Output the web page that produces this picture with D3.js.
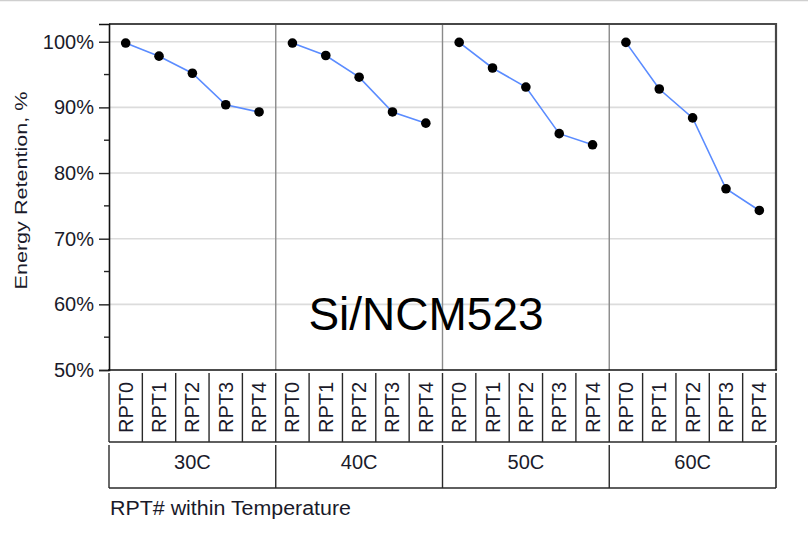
<!DOCTYPE html>
<html>
<head>
<meta charset="utf-8">
<script src="https://cdn.jsdelivr.net/npm/d3@7/dist/d3.min.js"></script>
<style>
  html, body { margin: 0; padding: 0; background: #fff; }
  svg { display: block; font-family: "Liberation Sans", Arial, sans-serif; }
</style>
</head>
<body>
<svg id="chart" width="808" height="542"></svg>
<script>
// Energy retention by RPT within each temperature
const temperatures = ["30C", "40C", "50C", "60C"];
const rpts = ["RPT0", "RPT1", "RPT2", "RPT3", "RPT4"];
const retention30C = [99.8, 97.8, 95.2, 90.4, 89.3];
const retention40C = [99.8, 97.9, 94.6, 89.3, 87.6];
const retention50C = [99.9, 96.0, 93.1, 86.0, 84.3];
const retention60C = [99.9, 92.8, 88.4, 77.6, 74.3];
const majorTicks = [50, 60, 70, 80, 90, 100];
const minorTicks = [55, 65, 75, 85, 95];
const chartLabel = "Si/NCM523";
const yTitle = "Energy Retention, %";
const xTitle = "RPT#  within  Temperature";

const series = [retention30C, retention40C, retention50C, retention60C];

const svg = d3.select("#chart");
const plotLeft = 109, plotRight = 776, plotTop = 24, plotBottom = 370;

const xOuter = d3.scaleBand().domain(temperatures).range([plotLeft, plotRight]);
const xInner = d3.scaleBand().domain(rpts).range([0, xOuter.bandwidth()]);
const y = d3.scaleLinear().domain([50, 102.7]).range([plotBottom, plotTop]);

// thin rule along the top of the window
svg.append("line").attr("x1", 0).attr("x2", 808).attr("y1", 0.5).attr("y2", 0.5)
  .attr("stroke", "#cfcfcf").attr("stroke-width", 1.5);

// gridlines
svg.append("g").selectAll("line").data(majorTicks.filter(d => d > 50)).join("line")
  .attr("x1", plotLeft).attr("x2", plotRight)
  .attr("y1", d => y(d)).attr("y2", d => y(d))
  .attr("stroke", "#dcdcdc").attr("stroke-width", 1.6);

// panel separators
svg.append("g").selectAll("line").data(temperatures.slice(1)).join("line")
  .attr("x1", d => xOuter(d)).attr("x2", d => xOuter(d))
  .attr("y1", plotTop).attr("y2", plotBottom)
  .attr("stroke", "#8a8a8a").attr("stroke-width", 1.4);

// frame: top and right in dark gray
svg.append("path")
  .attr("d", `M${plotLeft},${plotTop}H${plotRight}V${plotBottom}`)
  .attr("fill", "none").attr("stroke", "#474747").attr("stroke-width", 2.2);

// y axis
const yAxis = d3.axisLeft(y).tickValues(majorTicks).tickSize(10).tickPadding(5)
  .tickFormat(d => d + "%");
const gy = svg.append("g").attr("transform", `translate(${plotLeft},0)`).call(yAxis);
gy.select(".domain").attr("stroke", "#111").attr("stroke-width", 1.6);
gy.selectAll(".tick line").attr("stroke", "#222").attr("stroke-width", 1.4);
gy.selectAll(".tick text").attr("font-size", 20).attr("fill", "#1a1a2a")
  .attr("font-family", "Liberation Sans, Arial, sans-serif");
svg.append("g").selectAll("line").data(minorTicks).join("line")
  .attr("x1", plotLeft - 5).attr("x2", plotLeft)
  .attr("y1", d => y(d)).attr("y2", d => y(d))
  .attr("stroke", "#222").attr("stroke-width", 1.4);

// bottom axis line
svg.append("line").attr("x1", plotLeft - 1).attr("x2", plotRight + 1)
  .attr("y1", plotBottom).attr("y2", plotBottom)
  .attr("stroke", "#111").attr("stroke-width", 1.6);

// y title
svg.append("text")
  .attr("transform", `translate(27,${(91 + 290) / 2}) rotate(-90)`)
  .attr("text-anchor", "middle")
  .attr("font-size", 16).attr("fill", "#1a1a2a")
  .attr("textLength", 198).attr("lengthAdjust", "spacingAndGlyphs")
  .text(yTitle);

// lines and points per temperature
const line = d3.line()
  .x((d, i) => xInner(rpts[i]) + xInner.bandwidth() / 2)
  .y(d => y(d));

temperatures.forEach((t, k) => {
  const g = svg.append("g").attr("transform", `translate(${xOuter(t)},0)`);
  g.append("path").datum(series[k]).attr("d", line)
    .attr("fill", "none").attr("stroke", "#5b8cff").attr("stroke-width", 1.6);
  g.selectAll("circle").data(series[k]).join("circle")
    .attr("cx", (d, i) => xInner(rpts[i]) + xInner.bandwidth() / 2)
    .attr("cy", d => y(d))
    .attr("r", 4.8).attr("fill", "#000");
});

// category table below the plot
const row1Top = 373, row1Bottom = 442, row2Top = 445, row2Bottom = 488;
const cells = [];
temperatures.forEach(t => rpts.forEach(r => cells.push({ t, r })));
const cellX = d => xOuter(d.t) + xInner(d.r);

svg.append("g").selectAll("line").data(cells).join("line")
  .attr("x1", d => cellX(d)).attr("x2", d => cellX(d))
  .attr("y1", row1Top).attr("y2", row1Bottom)
  .attr("stroke", "#2a2a2a").attr("stroke-width", 1.4);
svg.append("line").attr("x1", plotRight).attr("x2", plotRight)
  .attr("y1", row1Top).attr("y2", row1Bottom)
  .attr("stroke", "#2a2a2a").attr("stroke-width", 1.6);
svg.append("line").attr("x1", plotLeft).attr("x2", plotRight)
  .attr("y1", row1Bottom).attr("y2", row1Bottom)
  .attr("stroke", "#2a2a2a").attr("stroke-width", 1.6);

svg.append("g").selectAll("text").data(cells).join("text")
  .attr("transform", d => `translate(${cellX(d) + xInner.bandwidth() / 2 + 7},${(row1Top + row1Bottom) / 2}) rotate(-90)`)
  .attr("text-anchor", "middle")
  .attr("font-size", 20).attr("fill", "#1a1a2a")
  .text(d => d.r);

svg.append("g").selectAll("line").data(temperatures).join("line")
  .attr("x1", d => xOuter(d)).attr("x2", d => xOuter(d))
  .attr("y1", row2Top).attr("y2", row2Bottom)
  .attr("stroke", "#2a2a2a").attr("stroke-width", 1.4);
svg.append("line").attr("x1", plotRight).attr("x2", plotRight)
  .attr("y1", row2Top).attr("y2", row2Bottom)
  .attr("stroke", "#2a2a2a").attr("stroke-width", 1.6);
svg.append("line").attr("x1", plotLeft).attr("x2", plotRight)
  .attr("y1", row2Bottom).attr("y2", row2Bottom)
  .attr("stroke", "#2a2a2a").attr("stroke-width", 1.6);

svg.append("g").selectAll("text").data(temperatures).join("text")
  .attr("x", d => xOuter(d) + xOuter.bandwidth() / 2)
  .attr("y", 469)
  .attr("text-anchor", "middle")
  .attr("font-size", 20).attr("fill", "#1a1a2a")
  .text(d => d);

// x title
svg.append("text")
  .attr("x", 110).attr("y", 515)
  .attr("font-size", 20).attr("fill", "#1a1a2a")
  .attr("textLength", 241).attr("lengthAdjust", "spacingAndGlyphs")
  .text(xTitle);

// cell chemistry label
svg.append("text")
  .attr("x", 426).attr("y", 330)
  .attr("text-anchor", "middle")
  .attr("font-size", 46).attr("fill", "#000")
  .text(chartLabel);
</script>
</body>
</html>
